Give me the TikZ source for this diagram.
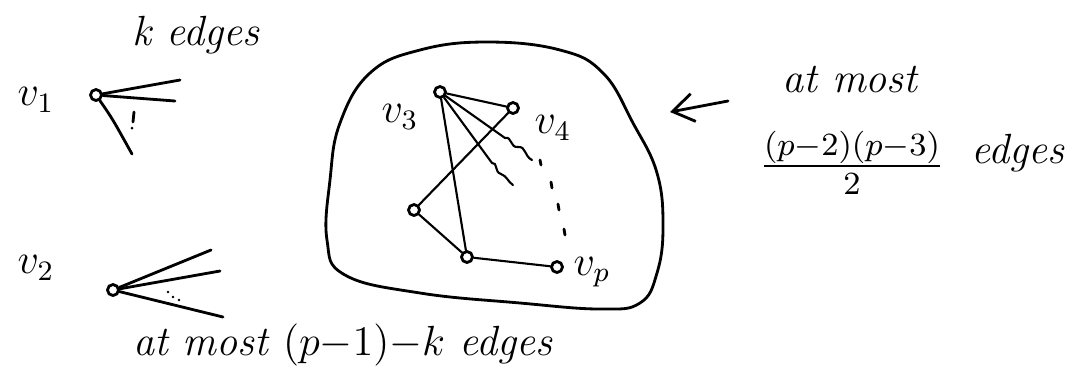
\documentclass[tikz,border=0pt]{standalone}
\usetikzlibrary{arrows.meta}
\begin{document}
\begin{tikzpicture}[x=0.01cm,y=-0.01cm,line cap=round,line join=round,
  vtx/.style={circle,draw,thick,inner sep=0pt,minimum size=0.11cm},
  hand/.style={font=\fontsize{12}{14}\selectfont\itshape,inner sep=1pt}]
\useasboundingbox (0,0) rectangle (1084,381);

% ---- vertex v1 with k edges ----
\node[hand] (kedges) at (196,35) {k edges};
\node[hand] (lv1) at (36,100) {$v_1$};
\node[vtx] (v1) at (96,95) {};
\coordinate (a1) at (180,80);
\coordinate (a2) at (175,101);
\coordinate (a3) at (132,154);
\draw[thick] (v1) -- (a1);
\draw[thick] (v1) -- (a2);
\draw[thick] (v1) .. controls (112,118) .. (a3);
\draw[thick] (134,112) -- (133,122);
\fill (132,128) circle (1.5);

% ---- vertex v2 with at most (p-1)-k edges ----
\node[hand] (lv2) at (36,268) {$v_2$};
\node[vtx] (v2) at (113,290) {};
\coordinate (b1) at (211,250);
\coordinate (b2) at (220,271);
\coordinate (b3) at (223,317);
\draw[thick] (v2) -- (b1);
\draw[thick] (v2) -- (b2);
\draw[thick] (v2) -- (b3);
\foreach \px/\py in {168/292,173/297,179/300}
  \fill (\px,\py) circle (1.4);
\node[hand] (amost) at (343,345) {at most $(p{-}1){-}k$ edges};

% ---- blob with the other vertices ----
\draw[thick] plot[smooth cycle,tension=0.7] coordinates {
  (420,50) (487,42) (560,50) (603,73) (633,123) (657,173) (663,227)
  (657,273) (640,303) (600,309) (520,303) (420,293) (345,275) (327,240)
  (330,180) (340,123) (370,73)};

\node[vtx] (v3) at (440,92) {};
\node[vtx] (v4) at (513,108) {};
\node[vtx] (v5) at (414,210) {};
\node[vtx] (v6) at (467,257) {};
\node[vtx] (vp) at (557,267) {};
\node[hand] (lv3) at (400,117) {$v_3$};
\node[hand] (lv4) at (553,128) {$v_4$};
\node[hand] (lvp) at (592,272) {$v_p$};

\draw[semithick] (v3) -- (v4);
\draw[semithick] (v3) -- (v6);
\draw[semithick] (v4) -- (v5);
\draw[semithick] (v5) -- (v6);
\draw[semithick] (v6) -- (vp);

% wavy loose edges from v3
\coordinate (c1) at (532,160);
\coordinate (c2) at (513,185);
\draw[semithick] (v3) -- (505,138) .. controls (512,136) and (510,148) .. (518,147)
  .. controls (526,146) and (524,156) .. (c1);
\draw[semithick] (v3) -- (492,163) .. controls (498,162) and (494,172) .. (501,174)
  .. controls (507,176) and (508,182) .. (c2);

% dots between v4 and vp
\draw[thick] (540,160) -- (541,165);
\draw[thick] (551,182) -- (552,188);
\draw[thick] (558,204) -- (559,210);
\draw[thick] (564,229) -- (565,235);

% ---- arrow and count ----
\coordinate (arrs) at (728,101);
\draw[thick,-{Straight Barb[length=6pt,width=8pt]}] (arrs) -- (670,112);
\node[hand] (atmost) at (850,80) {at most};
\node[hand,scale=1.15] (frac) at (852,163) {$\frac{(p-2)(p-3)}{2}$};
\node[hand] (edgs) at (1018,153) {edges};
\end{tikzpicture}
\end{document}
